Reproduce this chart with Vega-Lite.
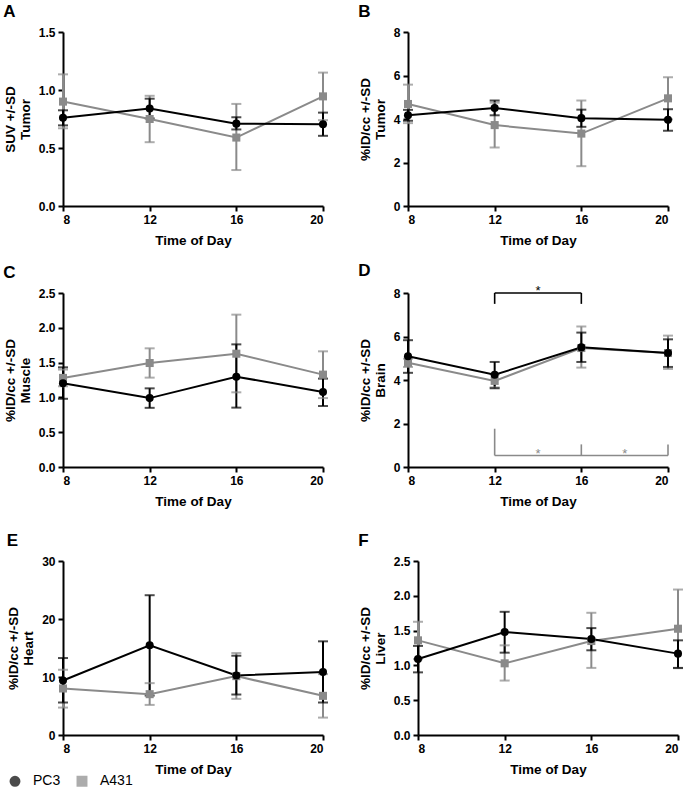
{
  "$schema": "https://vega.github.io/schema/vega-lite/v6.json",
  "padding": {"left": 3, "top": 3, "right": 2, "bottom": 0},
  "background": "white",
  "spacing": 14,
  "config": {
    "view": {"stroke": null},
    "font": "Liberation Sans",
    "axis": {"domainColor": "#000", "domainWidth": 2, "tickColor": "#000", "tickWidth": 2, "tickSize": 5, "labelFont": "Liberation Sans", "labelFontSize": 12, "labelFontWeight": "bold", "labelColor": "#000", "titleFont": "Liberation Sans", "titleFontSize": 13.5, "titleFontWeight": "bold", "titleColor": "#000", "grid": false, "labelPadding": 3, "labelOverlap": false, "tickCount": 10},
    "axisX": {"titlePadding": 8},
    "axisY": {"titlePadding": 6, "titleLineHeight": 15},
    "title": {"anchor": "start", "frame": "bounds", "fontSize": 17, "fontWeight": "bold", "font": "Liberation Sans", "color": "#000", "offset": 5},
    "legend": {"orient": "none", "legendX": -55, "legendY": 742, "direction": "horizontal", "labelFont": "Liberation Sans", "labelFontSize": 14, "labelColor": "#000", "symbolSize": 80, "symbolStrokeWidth": 2, "columnPadding": 12, "labelOffset": 11, "padding": 0},
    "concat": {"spacing": 30}
  },
  "vconcat": [
    {"hconcat": [
      {
        "title": "A", "width": 260, "height": 174,
        "data": {"values": [
          {"t": 8, "line": "A431", "mean": 0.9, "lo": 0.67, "hi": 1.135},
          {"t": 12, "line": "A431", "mean": 0.75, "lo": 0.55, "hi": 0.95},
          {"t": 16, "line": "A431", "mean": 0.59, "lo": 0.31, "hi": 0.88},
          {"t": 20, "line": "A431", "mean": 0.945, "lo": 0.74, "hi": 1.15},
          {"t": 8, "line": "PC3", "mean": 0.76, "lo": 0.695, "hi": 0.825},
          {"t": 12, "line": "PC3", "mean": 0.84, "lo": 0.755, "hi": 0.925},
          {"t": 16, "line": "PC3", "mean": 0.71, "lo": 0.66, "hi": 0.765},
          {"t": 20, "line": "PC3", "mean": 0.705, "lo": 0.605, "hi": 0.805}
        ]},
        "encoding": {"x": {"field": "t", "type": "quantitative", "scale": {"domain": [8, 20], "nice": false, "zero": false}, "axis": {"values": [8, 12, 16, 20], "title": "Time of Day"}}},
        "layer": [
          {"mark": {"type": "rule", "strokeWidth": 2}, "encoding": {"y": {"field": "lo", "type": "quantitative", "scale": {"domain": [0, 1.5], "nice": false}, "axis": {"values": [0, 0.5, 1, 1.5], "format": ".1f", "tickCount": 10, "title": ["SUV +/-SD", "Tumor"]}}, "y2": {"field": "hi"}, "color": {"field": "line", "type": "nominal", "scale": {"domain": ["PC3", "A431"], "range": ["#000000", "#8a8a8a"]}, "legend": {"title": null}}}},
          {"mark": {"type": "tick", "orient": "horizontal", "size": 10, "thickness": 2}, "encoding": {"y": {"field": "lo", "type": "quantitative"}, "color": {"field": "line", "type": "nominal", "scale": {"domain": ["PC3", "A431"]}}}},
          {"mark": {"type": "tick", "orient": "horizontal", "size": 10, "thickness": 2}, "encoding": {"y": {"field": "hi", "type": "quantitative"}, "color": {"field": "line", "type": "nominal", "scale": {"domain": ["PC3", "A431"]}}}},
          {"mark": {"type": "line", "strokeWidth": 2}, "encoding": {"y": {"field": "mean", "type": "quantitative"}, "color": {"field": "line", "type": "nominal", "scale": {"domain": ["PC3", "A431"]}}}},
          {"mark": {"type": "point", "filled": true, "opacity": 1, "size": 65}, "encoding": {"y": {"field": "mean", "type": "quantitative"}, "color": {"field": "line", "type": "nominal", "scale": {"domain": ["PC3", "A431"]}}, "shape": {"field": "line", "type": "nominal", "scale": {"domain": ["PC3", "A431"], "range": ["circle", "square"]}, "legend": null}}}
        ]
      },
      {
        "title": "B", "width": 260, "height": 174,
        "data": {"values": [
          {"t": 8, "line": "A431", "mean": 4.69, "lo": 3.81, "hi": 5.58},
          {"t": 12, "line": "A431", "mean": 3.72, "lo": 2.69, "hi": 4.75},
          {"t": 16, "line": "A431", "mean": 3.33, "lo": 1.83, "hi": 4.85},
          {"t": 20, "line": "A431", "mean": 4.95, "lo": 3.98, "hi": 5.92},
          {"t": 8, "line": "PC3", "mean": 4.17, "lo": 3.92, "hi": 4.42},
          {"t": 12, "line": "PC3", "mean": 4.51, "lo": 4.17, "hi": 4.85},
          {"t": 16, "line": "PC3", "mean": 4.04, "lo": 3.64, "hi": 4.43},
          {"t": 20, "line": "PC3", "mean": 3.96, "lo": 3.46, "hi": 4.45}
        ]},
        "encoding": {"x": {"field": "t", "type": "quantitative", "scale": {"domain": [8, 20], "nice": false, "zero": false}, "axis": {"values": [8, 12, 16, 20], "title": "Time of Day"}}},
        "layer": [
          {"mark": {"type": "rule", "strokeWidth": 2}, "encoding": {"y": {"field": "lo", "type": "quantitative", "scale": {"domain": [0, 8], "nice": false}, "axis": {"values": [0, 2, 4, 6, 8], "tickCount": 10, "title": ["%ID/cc +/-SD", "Tumor"]}}, "y2": {"field": "hi"}, "color": {"field": "line", "type": "nominal", "scale": {"domain": ["PC3", "A431"]}}}},
          {"mark": {"type": "tick", "orient": "horizontal", "size": 10, "thickness": 2}, "encoding": {"y": {"field": "lo", "type": "quantitative"}, "color": {"field": "line", "type": "nominal", "scale": {"domain": ["PC3", "A431"]}}}},
          {"mark": {"type": "tick", "orient": "horizontal", "size": 10, "thickness": 2}, "encoding": {"y": {"field": "hi", "type": "quantitative"}, "color": {"field": "line", "type": "nominal", "scale": {"domain": ["PC3", "A431"]}}}},
          {"mark": {"type": "line", "strokeWidth": 2}, "encoding": {"y": {"field": "mean", "type": "quantitative"}, "color": {"field": "line", "type": "nominal", "scale": {"domain": ["PC3", "A431"]}}}},
          {"mark": {"type": "point", "filled": true, "opacity": 1, "size": 65}, "encoding": {"y": {"field": "mean", "type": "quantitative"}, "color": {"field": "line", "type": "nominal", "scale": {"domain": ["PC3", "A431"]}}, "shape": {"field": "line", "type": "nominal", "scale": {"domain": ["PC3", "A431"], "range": ["circle", "square"]}, "legend": null}}}
        ]
      }
    ]},
    {"spacing": 24, "vconcat": [
    {"hconcat": [
      {
        "title": "C", "width": 260, "height": 174,
        "data": {"values": [
          {"t": 8, "line": "A431", "mean": 1.28, "lo": 1.16, "hi": 1.4},
          {"t": 12, "line": "A431", "mean": 1.494, "lo": 1.284, "hi": 1.705},
          {"t": 16, "line": "A431", "mean": 1.628, "lo": 1.073, "hi": 2.189},
          {"t": 20, "line": "A431", "mean": 1.327, "lo": 0.99, "hi": 1.662},
          {"t": 8, "line": "PC3", "mean": 1.202, "lo": 0.98, "hi": 1.432},
          {"t": 12, "line": "PC3", "mean": 0.99, "lo": 0.85, "hi": 1.13},
          {"t": 16, "line": "PC3", "mean": 1.298, "lo": 0.853, "hi": 1.762},
          {"t": 20, "line": "PC3", "mean": 1.078, "lo": 0.876, "hi": 1.27}
        ]},
        "encoding": {"x": {"field": "t", "type": "quantitative", "scale": {"domain": [8, 20], "nice": false, "zero": false}, "axis": {"values": [8, 12, 16, 20], "title": "Time of Day"}}},
        "layer": [
          {"mark": {"type": "rule", "strokeWidth": 2}, "encoding": {"y": {"field": "lo", "type": "quantitative", "scale": {"domain": [0, 2.5], "nice": false}, "axis": {"values": [0, 0.5, 1, 1.5, 2, 2.5], "format": ".1f", "tickCount": 10, "title": ["%ID/cc +/-SD", "Muscle"]}}, "y2": {"field": "hi"}, "color": {"field": "line", "type": "nominal", "scale": {"domain": ["PC3", "A431"]}}}},
          {"mark": {"type": "tick", "orient": "horizontal", "size": 10, "thickness": 2}, "encoding": {"y": {"field": "lo", "type": "quantitative"}, "color": {"field": "line", "type": "nominal", "scale": {"domain": ["PC3", "A431"]}}}},
          {"mark": {"type": "tick", "orient": "horizontal", "size": 10, "thickness": 2}, "encoding": {"y": {"field": "hi", "type": "quantitative"}, "color": {"field": "line", "type": "nominal", "scale": {"domain": ["PC3", "A431"]}}}},
          {"mark": {"type": "line", "strokeWidth": 2}, "encoding": {"y": {"field": "mean", "type": "quantitative"}, "color": {"field": "line", "type": "nominal", "scale": {"domain": ["PC3", "A431"]}}}},
          {"mark": {"type": "point", "filled": true, "opacity": 1, "size": 65}, "encoding": {"y": {"field": "mean", "type": "quantitative"}, "color": {"field": "line", "type": "nominal", "scale": {"domain": ["PC3", "A431"]}}, "shape": {"field": "line", "type": "nominal", "scale": {"domain": ["PC3", "A431"], "range": ["circle", "square"]}, "legend": null}}}
        ]
      },
      {
        "title": "D", "width": 260, "height": 174,
        "data": {"values": [
          {"t": 8, "line": "A431", "mean": 4.79, "lo": 4.6, "hi": 4.98},
          {"t": 12, "line": "A431", "mean": 3.96, "lo": 3.66, "hi": 4.26},
          {"t": 16, "line": "A431", "mean": 5.47, "lo": 4.57, "hi": 6.46},
          {"t": 20, "line": "A431", "mean": 5.24, "lo": 4.51, "hi": 6.04},
          {"t": 8, "line": "PC3", "mean": 5.09, "lo": 4.33, "hi": 5.83},
          {"t": 12, "line": "PC3", "mean": 4.24, "lo": 3.62, "hi": 4.83},
          {"t": 16, "line": "PC3", "mean": 5.5, "lo": 4.83, "hi": 6.18},
          {"t": 20, "line": "PC3", "mean": 5.24, "lo": 4.6, "hi": 5.87}
        ]},
        "encoding": {"x": {"field": "t", "type": "quantitative", "scale": {"domain": [8, 20], "nice": false, "zero": false}, "axis": {"values": [8, 12, 16, 20], "title": "Time of Day"}}},
        "layer": [
          {"mark": {"type": "rule", "strokeWidth": 2}, "encoding": {"y": {"field": "lo", "type": "quantitative", "scale": {"domain": [0, 8], "nice": false}, "axis": {"values": [0, 2, 4, 6, 8], "tickCount": 10, "title": ["%ID/cc +/-SD", "Brain"]}}, "y2": {"field": "hi"}, "color": {"field": "line", "type": "nominal", "scale": {"domain": ["PC3", "A431"]}}}},
          {"mark": {"type": "tick", "orient": "horizontal", "size": 10, "thickness": 2}, "encoding": {"y": {"field": "lo", "type": "quantitative"}, "color": {"field": "line", "type": "nominal", "scale": {"domain": ["PC3", "A431"]}}}},
          {"mark": {"type": "tick", "orient": "horizontal", "size": 10, "thickness": 2}, "encoding": {"y": {"field": "hi", "type": "quantitative"}, "color": {"field": "line", "type": "nominal", "scale": {"domain": ["PC3", "A431"]}}}},
          {"mark": {"type": "line", "strokeWidth": 2}, "encoding": {"y": {"field": "mean", "type": "quantitative"}, "color": {"field": "line", "type": "nominal", "scale": {"domain": ["PC3", "A431"]}}}},
          {"mark": {"type": "point", "filled": true, "opacity": 1, "size": 65}, "encoding": {"y": {"field": "mean", "type": "quantitative"}, "color": {"field": "line", "type": "nominal", "scale": {"domain": ["PC3", "A431"]}}, "shape": {"field": "line", "type": "nominal", "scale": {"domain": ["PC3", "A431"], "range": ["circle", "square"]}, "legend": null}}},
          {
            "data": {"values": [
              {"line": "PC3", "xa": 12, "xb": 16, "ya": 8, "yb": 8},
              {"line": "PC3", "xa": 12, "xb": 12, "ya": 7.5, "yb": 8},
              {"line": "PC3", "xa": 16, "xb": 16, "ya": 7.5, "yb": 8},
              {"line": "A431", "xa": 12, "xb": 20, "ya": 0.53, "yb": 0.53},
              {"line": "A431", "xa": 12, "xb": 12, "ya": 0.53, "yb": 1.76},
              {"line": "A431", "xa": 16, "xb": 16, "ya": 0.53, "yb": 1.04},
              {"line": "A431", "xa": 20, "xb": 20, "ya": 0.53, "yb": 1.04}
            ]},
            "mark": {"type": "rule", "strokeWidth": 1.6},
            "encoding": {"x": {"field": "xa", "type": "quantitative"}, "x2": {"field": "xb"}, "y": {"field": "ya", "type": "quantitative"}, "y2": {"field": "yb"}, "color": {"field": "line", "type": "nominal", "scale": {"domain": ["PC3", "A431"]}}}
          },
          {
            "data": {"values": [
              {"line": "PC3", "xs": 14, "ys": 7.93, "label": "*"},
              {"line": "A431", "xs": 14, "ys": 0.43, "label": "*"},
              {"line": "A431", "xs": 18, "ys": 0.43, "label": "*"}
            ]},
            "mark": {"type": "text", "fontSize": 13, "baseline": "alphabetic", "font": "Liberation Sans"},
            "encoding": {"x": {"field": "xs", "type": "quantitative"}, "y": {"field": "ys", "type": "quantitative"}, "text": {"field": "label"}, "color": {"field": "line", "type": "nominal", "scale": {"domain": ["PC3", "A431"]}}}
          }
        ]
      }
    ]},
    {"hconcat": [
      {
        "title": "E", "width": 260, "height": 174,
        "data": {"values": [
          {"t": 8, "line": "A431", "mean": 8.02, "lo": 4.73, "hi": 11.25},
          {"t": 12, "line": "A431", "mean": 7.04, "lo": 5.19, "hi": 8.94},
          {"t": 16, "line": "A431", "mean": 10.15, "lo": 6.23, "hi": 14.13},
          {"t": 20, "line": "A431", "mean": 6.75, "lo": 3.0, "hi": 10.5},
          {"t": 8, "line": "PC3", "mean": 9.4, "lo": 5.6, "hi": 13.27},
          {"t": 12, "line": "PC3", "mean": 15.46, "lo": 6.8, "hi": 24.1},
          {"t": 16, "line": "PC3", "mean": 10.27, "lo": 6.98, "hi": 13.67},
          {"t": 20, "line": "PC3", "mean": 10.85, "lo": 5.6, "hi": 16.15}
        ]},
        "encoding": {"x": {"field": "t", "type": "quantitative", "scale": {"domain": [8, 20], "nice": false, "zero": false}, "axis": {"values": [8, 12, 16, 20], "title": "Time of Day"}}},
        "layer": [
          {"mark": {"type": "rule", "strokeWidth": 2}, "encoding": {"y": {"field": "lo", "type": "quantitative", "scale": {"domain": [0, 30], "nice": false}, "axis": {"values": [0, 10, 20, 30], "tickCount": 10, "title": ["%ID/cc +/-SD", "Heart"]}}, "y2": {"field": "hi"}, "color": {"field": "line", "type": "nominal", "scale": {"domain": ["PC3", "A431"]}}}},
          {"mark": {"type": "tick", "orient": "horizontal", "size": 10, "thickness": 2}, "encoding": {"y": {"field": "lo", "type": "quantitative"}, "color": {"field": "line", "type": "nominal", "scale": {"domain": ["PC3", "A431"]}}}},
          {"mark": {"type": "tick", "orient": "horizontal", "size": 10, "thickness": 2}, "encoding": {"y": {"field": "hi", "type": "quantitative"}, "color": {"field": "line", "type": "nominal", "scale": {"domain": ["PC3", "A431"]}}}},
          {"mark": {"type": "line", "strokeWidth": 2}, "encoding": {"y": {"field": "mean", "type": "quantitative"}, "color": {"field": "line", "type": "nominal", "scale": {"domain": ["PC3", "A431"]}}}},
          {"mark": {"type": "point", "filled": true, "opacity": 1, "size": 65}, "encoding": {"y": {"field": "mean", "type": "quantitative"}, "color": {"field": "line", "type": "nominal", "scale": {"domain": ["PC3", "A431"]}}, "shape": {"field": "line", "type": "nominal", "scale": {"domain": ["PC3", "A431"], "range": ["circle", "square"]}, "legend": null}}}
        ]
      },
      {
        "title": "F", "width": 260, "height": 174,
        "data": {"values": [
          {"t": 8, "line": "A431", "mean": 1.36, "lo": 1.09, "hi": 1.627},
          {"t": 12, "line": "A431", "mean": 1.03, "lo": 0.782, "hi": 1.288},
          {"t": 16, "line": "A431", "mean": 1.35, "lo": 0.964, "hi": 1.756},
          {"t": 20, "line": "A431", "mean": 1.527, "lo": 0.96, "hi": 2.09},
          {"t": 8, "line": "PC3", "mean": 1.093, "lo": 0.9, "hi": 1.28},
          {"t": 12, "line": "PC3", "mean": 1.479, "lo": 1.183, "hi": 1.77},
          {"t": 16, "line": "PC3", "mean": 1.379, "lo": 1.217, "hi": 1.536},
          {"t": 20, "line": "PC3", "mean": 1.169, "lo": 0.964, "hi": 1.36}
        ]},
        "encoding": {"x": {"field": "t", "type": "quantitative", "scale": {"domain": [8, 20], "nice": false, "zero": false}, "axis": {"values": [8, 12, 16, 20], "title": "Time of Day"}}},
        "layer": [
          {"mark": {"type": "rule", "strokeWidth": 2}, "encoding": {"y": {"field": "lo", "type": "quantitative", "scale": {"domain": [0, 2.5], "nice": false}, "axis": {"values": [0, 0.5, 1, 1.5, 2, 2.5], "format": ".1f", "tickCount": 10, "title": ["%ID/cc +/-SD", "Liver"]}}, "y2": {"field": "hi"}, "color": {"field": "line", "type": "nominal", "scale": {"domain": ["PC3", "A431"]}}}},
          {"mark": {"type": "tick", "orient": "horizontal", "size": 10, "thickness": 2}, "encoding": {"y": {"field": "lo", "type": "quantitative"}, "color": {"field": "line", "type": "nominal", "scale": {"domain": ["PC3", "A431"]}}}},
          {"mark": {"type": "tick", "orient": "horizontal", "size": 10, "thickness": 2}, "encoding": {"y": {"field": "hi", "type": "quantitative"}, "color": {"field": "line", "type": "nominal", "scale": {"domain": ["PC3", "A431"]}}}},
          {"mark": {"type": "line", "strokeWidth": 2}, "encoding": {"y": {"field": "mean", "type": "quantitative"}, "color": {"field": "line", "type": "nominal", "scale": {"domain": ["PC3", "A431"]}}}},
          {"mark": {"type": "point", "filled": true, "opacity": 1, "size": 65}, "encoding": {"y": {"field": "mean", "type": "quantitative"}, "color": {"field": "line", "type": "nominal", "scale": {"domain": ["PC3", "A431"]}}, "shape": {"field": "line", "type": "nominal", "scale": {"domain": ["PC3", "A431"], "range": ["circle", "square"]}, "legend": null}}}
        ]
      }
    ]}
    ]}
  ]
}
